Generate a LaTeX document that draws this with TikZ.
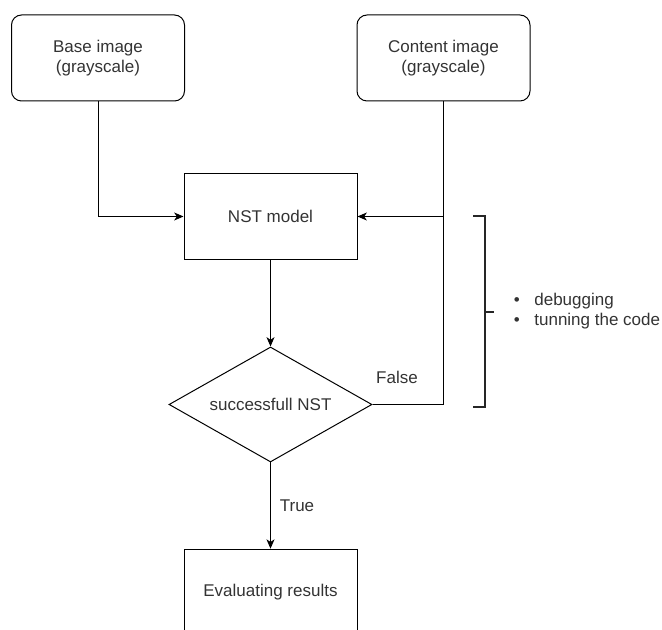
\documentclass[tikz,border=0pt]{standalone}
\usepackage{fontspec}
\setmainfont{Liberation Sans}
\usetikzlibrary{shapes.geometric,arrows.meta}

\begin{document}
\begin{tikzpicture}[x=0.75pt,y=-0.75pt,
  every node/.style={font=\fontsize{12.75}{15}\selectfont, text=black!80},
  imgbox/.style={draw, line width=0.75pt, rounded corners=7.5pt, minimum width=129.75pt, minimum height=64.5pt, align=center, inner sep=0pt},
  stepbox/.style={draw, line width=0.75pt, minimum width=129.75pt, minimum height=65pt, align=center, inner sep=0pt},
  decide/.style={draw, diamond, line width=0.75pt, minimum width=152.25pt, minimum height=86.25pt, aspect=1.77, inner sep=0pt},
  arr/.style={-{Stealth[length=7pt,width=6pt,inset=2pt]}, line width=0.75pt}]
\clip (0,0) rectangle (662,630);
\useasboundingbox (0,0) rectangle (662,630);

% inputs
\node[imgbox] (base) at (98,58) {Base image\\(grayscale)};
\node[imgbox] (content) at (443.5,58) {Content image\\(grayscale)};

% model, check, result
\node[stepbox] (nst) at (270.5,216.5) {NST model};
\node[decide] (check) at (270.5,404.5) {successfull NST};
\node[stepbox] (eval) at (270.5,592.5) {Evaluating results};

% connectors
\coordinate (join) at (content.south |- check.east);
\draw[arr] (base.south) |- (nst.west);
\draw[line width=0.75pt] (content.south) -- (join);
\draw[arr] (content.south |- nst.east) -- (nst.east);
\draw[arr] (nst.south) -- (check.north);
\draw[line width=0.75pt] (check.east) -- (join);
\draw[arr] (check.south) -- (eval.north);
\node (lblfalse) at (397,377) {False};
\node (lbltrue) at (297,506) {True};

% bracket and notes
\draw[line width=1.5pt, black!85] (473,216) -- (485,216) -- (485,407) -- (473,407);
\draw[line width=1.5pt, black!85] (485,312) -- (494,312);
\node[anchor=west, align=left, inner sep=0pt] (notes) at (513.5,311)
  {\textbullet\hspace{11pt}debugging\\\textbullet\hspace{11pt}tunning the code};

\end{tikzpicture}
\end{document}
